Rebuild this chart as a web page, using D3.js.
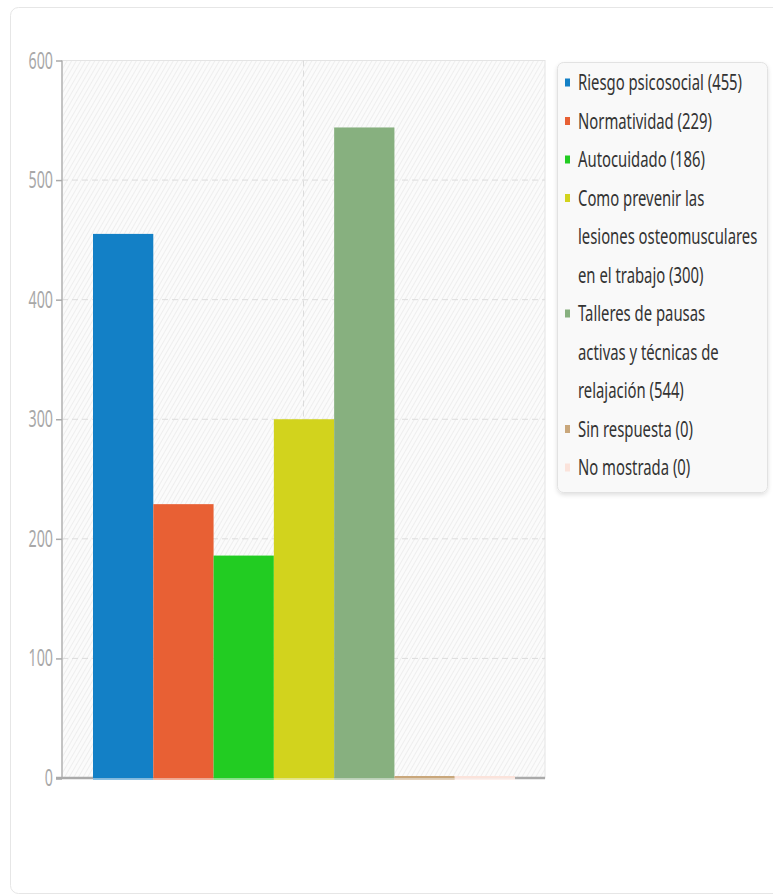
<!DOCTYPE html>
<html>
<head>
<meta charset="utf-8">
<script src="https://cdn.jsdelivr.net/npm/d3@7"></script>
<style>
  html, body { margin: 0; padding: 0; background: #fff; }
  svg { display: block; }
  text { font-family: "Noto Sans", "Open Sans", sans-serif; }
</style>
</head>
<body>
<svg id="chart" width="773" height="896"></svg>
<script>
// ---- data ----
const categories = ["Riesgo psicosocial", "Normatividad", "Autocuidado",
  "Como prevenir las lesiones osteomusculares en el trabajo",
  "Talleres de pausas activas y técnicas de relajación",
  "Sin respuesta", "No mostrada"];
const values = [455, 229, 186, 300, 544, 0, 0];
const colors = ["#1380c6", "#e86034", "#22cc22", "#d2d31d", "#87b07f", "#c9a77b", "#fbe3db"];
const legendLines = [
  ["Riesgo psicosocial (455)"],
  ["Normatividad (229)"],
  ["Autocuidado (186)"],
  ["Como prevenir las", "lesiones osteomusculares", "en el trabajo (300)"],
  ["Talleres de pausas", "activas y técnicas de", "relajación (544)"],
  ["Sin respuesta (0)"],
  ["No mostrada (0)"]
];
const yTicks = [0, 100, 200, 300, 400, 500, 600];

// ---- layout ----
const svg = d3.select("#chart");
const plot = { left: 62, top: 60.5, right: 545, bottom: 778 };
const SX = 0.62;   // horizontal squeeze of tick text
const SXL = 0.66;  // horizontal squeeze of legend text

const defs = svg.append("defs");
const pat = defs.append("pattern").attr("id", "hatch")
  .attr("patternUnits", "userSpaceOnUse").attr("width", 4).attr("height", 4)
  .attr("patternTransform", "rotate(30)");
pat.append("rect").attr("width", 4).attr("height", 4).attr("fill", "#fbfbfb");
pat.append("line").attr("x1", 0).attr("y1", 0).attr("x2", 0).attr("y2", 4)
  .attr("stroke", "#e8e8e8").attr("stroke-width", 1.3);
const flt = defs.append("filter").attr("id", "shadow").attr("x", "-10%").attr("y", "-10%")
  .attr("width", "120%").attr("height", "120%");
flt.append("feDropShadow").attr("dx", 0).attr("dy", 2).attr("stdDeviation", 2)
  .attr("flood-color", "#000").attr("flood-opacity", 0.12);

// outer card
svg.append("rect").attr("x", 10.5).attr("y", 7.5).attr("width", 800).attr("height", 886)
  .attr("rx", 8).attr("fill", "#fff").attr("stroke", "#e6e6e6");

// scales
const y = d3.scaleLinear().domain([0, 600]).range([plot.bottom, plot.top]);
const xCat = d3.scaleBand().domain(["all"]).range([plot.left, plot.right]).paddingOuter(0).paddingInner(0);
const x = d3.scaleBand().domain(categories)
  .range([plot.left + 31, plot.right - 30]).padding(0);

// plot background
svg.append("rect").attr("x", plot.left).attr("y", plot.top)
  .attr("width", plot.right - plot.left).attr("height", plot.bottom - plot.top)
  .attr("fill", "url(#hatch)").attr("stroke", "#e4e4e4");

// grid
svg.append("g").selectAll("line").data(yTicks.filter(d => d > 0 && d < 600)).join("line")
  .attr("x1", plot.left).attr("x2", plot.right)
  .attr("y1", d => y(d)).attr("y2", d => y(d))
  .attr("stroke", "#dcdcdc").attr("stroke-dasharray", "6,4");
svg.append("line")
  .attr("x1", xCat("all") + xCat.bandwidth() / 2).attr("x2", xCat("all") + xCat.bandwidth() / 2)
  .attr("y1", plot.top).attr("y2", plot.bottom)
  .attr("stroke", "#dcdcdc").attr("stroke-dasharray", "6,4");

// bars shadow strip at base
svg.append("g").selectAll("rect").data(values).join("rect")
  .attr("x", (d, i) => x(categories[i]))
  .attr("width", x.bandwidth())
  .attr("y", y(0) - 1).attr("height", 3)
  .attr("fill", (d, i) => colors[i]).attr("opacity", 0.5);

// bars
svg.append("g").selectAll("rect").data(values).join("rect")
  .attr("x", (d, i) => x(categories[i]))
  .attr("width", x.bandwidth())
  .attr("y", d => Math.min(y(d), y(0) - 2))
  .attr("height", d => Math.max(y(0) - y(d), 2))
  .attr("fill", (d, i) => colors[i]);

// axes lines
svg.append("line").attr("x1", plot.left).attr("x2", plot.left)
  .attr("y1", plot.top).attr("y2", plot.bottom + 1)
  .attr("stroke", "#b5b5b5").attr("stroke-width", 1.5);
svg.append("line").attr("x1", plot.left - 6).attr("x2", x(categories[0]))
  .attr("y1", plot.bottom).attr("y2", plot.bottom)
  .attr("stroke", "#aaa").attr("stroke-width", 2.5);
svg.append("line").attr("x1", x(categories[categories.length - 1]) + x.bandwidth()).attr("x2", plot.right)
  .attr("y1", plot.bottom).attr("y2", plot.bottom)
  .attr("stroke", "#aaa").attr("stroke-width", 2.5);

// y ticks
const yAxis = d3.axisLeft(y).tickValues(yTicks).tickSize(6).tickFormat("");
const ya = svg.append("g").attr("transform", `translate(${plot.left},0)`).call(yAxis);
ya.select(".domain").remove();
ya.selectAll(".tick line").attr("stroke", "#aaa").attr("stroke-width", 1.5);
ya.selectAll(".tick").filter(d => d === 0).select("line").attr("stroke-width", 2.5);

// tick labels (squeezed)
svg.append("g").selectAll("g").data(yTicks).join("g")
  .attr("transform", d => `translate(53,${y(d) + 8}) scale(${SX},1)`)
  .append("text").attr("text-anchor", "end")
  .attr("font-size", 23).attr("fill", "#a8a8a8")
  .text(d => d);

// legend
const lg = { x: 557.5, y: 62.5, w: 210, h: 430 };
svg.append("rect").attr("x", lg.x).attr("y", lg.y).attr("width", lg.w).attr("height", lg.h)
  .attr("rx", 6).attr("fill", "#f9f9f9").attr("stroke", "#e2e2e2")
  .attr("filter", "url(#shadow)");

const lineStep = 38.5;
let lineIdx = 0;
const legendItems = legendLines.map((lines, i) => {
  const item = { i, lines, start: lineIdx };
  lineIdx += lines.length;
  return item;
});
const firstY = 82;
const items = svg.append("g").selectAll("g").data(legendItems).join("g");
items.append("rect")
  .attr("x", 565).attr("y", d => firstY + d.start * lineStep - 3.5)
  .attr("width", 5).attr("height", 8)
  .attr("fill", d => colors[d.i]);
items.each(function(d) {
  const g = d3.select(this);
  d.lines.forEach((t, k) => {
    g.append("g")
      .attr("transform", `translate(578,${firstY + (d.start + k) * lineStep + 8}) scale(${SXL},1)`)
      .append("text").attr("font-size", 22.5).attr("fill", "#333")
      .text(t);
  });
});
</script>
</body>
</html>
